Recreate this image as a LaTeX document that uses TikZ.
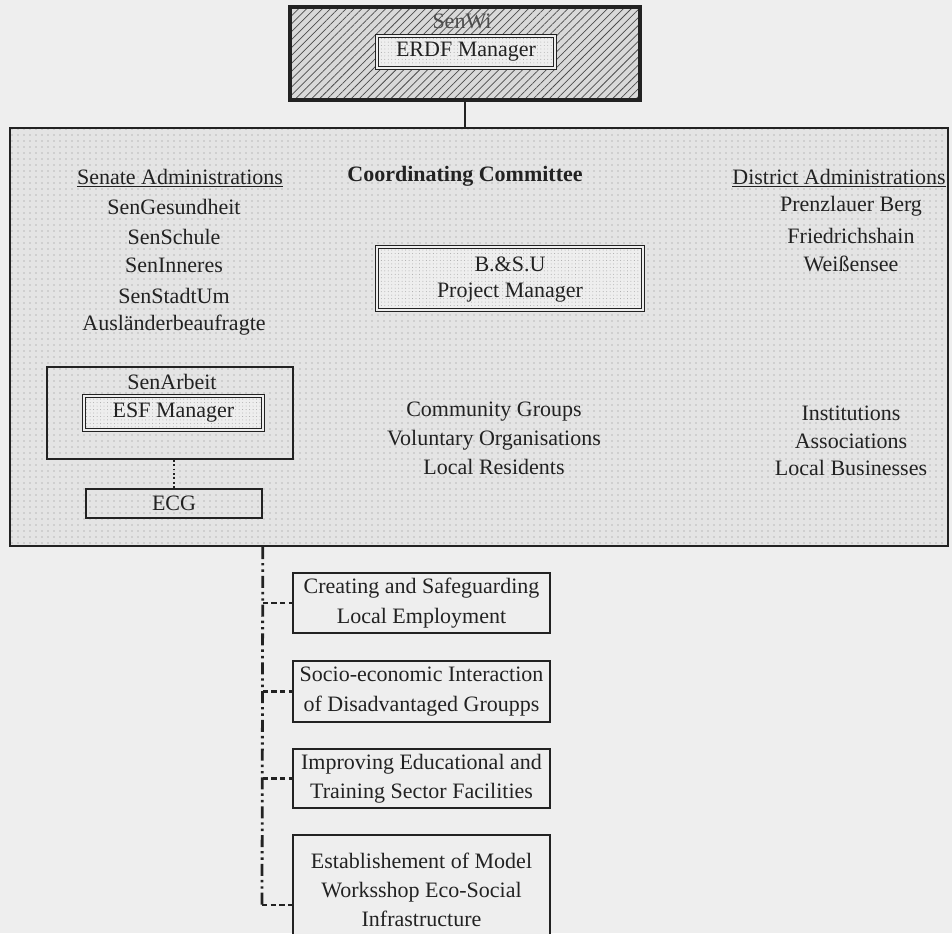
\documentclass[tikz,border=0pt]{standalone}
\usepackage{fontspec}
\setmainfont{Liberation Serif}
\usetikzlibrary{patterns.meta,fit}

\definecolor{ink}{HTML}{222222}
\definecolor{paper}{HTML}{EEEEEE}
\definecolor{shade}{HTML}{E4E4E4}

\begin{document}
\begin{tikzpicture}[x=0.75pt,y=-0.75pt,
  lbl/.style={font=\fontsize{16.5}{20}\selectfont,text=ink,inner sep=0pt,align=center},
  frame/.style={fit={#1},inner sep=0pt,draw=ink},
  dotfill/.style={preaction={fill=shade},pattern={Dots[distance=4.5pt,radius=0.45pt]},pattern color=black!45},
  finedots/.style={preaction={fill=paper},pattern={Dots[distance=2.6pt,radius=0.35pt]},pattern color=black!35},
  hatch/.style={preaction={fill=black!15},pattern={Lines[angle=45,distance=4.2pt,line width=0.55pt]},pattern color=black!70},
  dbl/.style={double=paper,double distance=1.6pt,line width=0.7pt},
  spine/.style={line width=2.1pt,draw=ink,dash pattern=on 9pt off 3pt on 1.8pt off 3pt on 1.8pt off 3pt},
  stub/.style={line width=2.1pt,draw=ink,dash pattern=on 4pt off 2.5pt}]

\useasboundingbox (0,0) rectangle (952,933);
\clip (0,0) rectangle (952,933);
\fill[paper] (0,0) rectangle (952,933);

% ---- SenWi with the ERDF manager ----
\node[frame={(290,7) (640,100)},hatch,line width=2.6pt] (top) {};
\node[lbl,text=black!70] (senwi) at (462,21) {SenWi};
\node[frame={(377,36) (555,68)},finedots,dbl] (erdf) {};
\node[lbl] at (erdf.center) {ERDF Manager};

% ---- Coordinating committee ----
\node[frame={(10,128) (948,546)},dotfill,line width=1.6pt] (big) {};
\draw[ink,line width=1.2pt] (top.south) -- (top.south |- big.north);

\node[lbl,font=\fontsize{16.5}{20}\selectfont\bfseries] (cc) at (465,176) {Coordinating Committee};

% Senate administrations
\node[lbl] (senate) at (180,178) {\underline{Senate Administrations}};
\node[lbl] (sg) at (174,207) {SenGesundheit};
\node[lbl] (ss) at (174,237) {SenSchule};
\node[lbl] (si) at (174,265) {SenInneres};
\node[lbl] (su) at (174,296) {SenStadtUm};
\node[lbl] (ab) at (174,325) {Ausländerbeaufragte};

\node[frame={(47,367) (293,459)},line width=1.2pt] (senarbeit) {};
\node[lbl] (sa) at (172,382) {SenArbeit};
\node[frame={(84,396) (263,430)},finedots,dbl] (esf) {};
\node[lbl] at (esf.center) {ESF Manager};

\node[frame={(86,489) (262,518)},line width=1.2pt] (ecg) {};
\node[lbl] at (ecg.center) {ECG};
\draw[ink,line width=1.3pt,dotted] (ecg.north |- senarbeit.south) -- (ecg.north);

% Project manager
\node[frame={(377,247) (643,310)},finedots,dbl] (bsu) {};
\node[lbl] at (510,264) {B.\&S.U};
\node[lbl] at (510,293) {Project Manager};

% District administrations
\node[lbl] (district) at (839,178) {\underline{District Administrations}};
\node[lbl] (pb) at (851,206) {Prenzlauer Berg};
\node[lbl] (fh) at (851,236) {Friedrichshain};
\node[lbl] (ws) at (851,264) {Weißensee};

% Other partners
\node[lbl] (cg) at (494,412) {Community Groups};
\node[lbl] (vo) at (494,440) {Voluntary Organisations};
\node[lbl] (lr) at (494,467) {Local Residents};

\node[lbl] (in) at (851,413) {Institutions};
\node[lbl] (as) at (851,441) {Associations};
\node[lbl] (lb) at (851,468) {Local Businesses};

% ---- Fields of action ----
\node[frame={(293,573) (550,633)},fill=paper,line width=1pt] (f1) {};
\node[lbl] at (f1.center) {Creating and Safeguarding\\[2pt]Local Employment};
\node[frame={(293,661) (550,722)},fill=paper,line width=1pt] (f2) {};
\node[lbl] at (f2.center) {Socio-economic Interaction\\[2pt]of Disadvantaged Groupps};
\node[frame={(293,749) (550,808)},fill=paper,line width=1pt] (f3) {};
\node[lbl] at (f3.center) {Improving Educational and\\[2pt]Training Sector Facilities};
\node[frame={(293,835) (550,945)},fill=paper,line width=1pt] (f4) {};
\node[lbl] at (421.5,890) {Establishement of Model\\[2pt]Worksshop Eco-Social\\[2pt]Infrastructure};

\coordinate (s1) at (ecg.east |- f1.west);
\coordinate (s2) at (ecg.east |- f2.west);
\coordinate (s3) at (ecg.east |- f3.west);
\coordinate (s4) at (262,905);

\draw[spine] (ecg.east |- big.south) -- (s4);
\draw[stub] (s1) -- (f1.west);
\draw[stub] (s2) -- (f2.west);
\draw[stub] (s3) -- (f3.west);
\draw[stub] (s4) -- (f4.west |- s4);
\end{tikzpicture}
\end{document}
